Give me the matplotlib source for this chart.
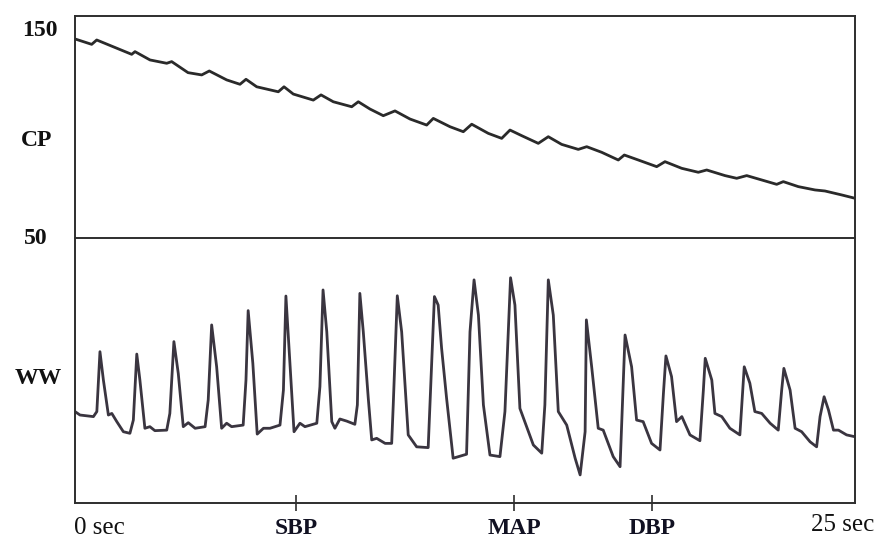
import matplotlib
matplotlib.use('Agg')
import matplotlib.pyplot as plt

# ---------------- data ----------------
# Cuff pressure (CP), time in seconds, pressure in mmHg
cp_time = [0.00, 0.535, 0.696, 1.817, 1.923, 2.404, 2.939, 3.099, 3.622, 4.061,
           4.304, 4.862, 5.288, 5.481, 5.824, 6.516, 6.699, 6.997, 7.638, 7.885,
           8.279, 8.869, 9.080, 9.455, 9.881, 10.256, 10.737, 11.272, 11.484, 12.019,
           12.446, 12.715, 13.247, 13.676, 13.942, 14.317, 14.849, 15.170, 15.599, 16.131,
           16.401, 16.881, 17.413, 17.606, 18.054, 18.644, 18.910, 19.446, 19.978, 20.247,
           20.833, 21.208, 21.529, 22.010, 22.490, 22.702, 23.183, 23.718, 24.038, 24.574,
           25.000]
cp_value = [145.7, 143.1, 145.2, 138.3, 139.6, 135.6, 134.0, 134.8, 129.5, 128.4,
            130.3, 126.0, 123.9, 126.3, 122.7, 120.3, 122.7, 119.2, 116.3, 118.8,
            115.5, 113.1, 115.5, 112.0, 108.8, 111.1, 107.2, 104.3, 107.5, 103.5,
            101.1, 104.7, 100.3, 97.9, 101.9, 99.2, 95.5, 98.7, 95.0, 92.6,
            93.9, 91.2, 87.5, 89.9, 87.5, 84.3, 86.7, 83.5, 81.6, 82.7,
            80.0, 78.7, 80.0, 77.9, 75.8, 77.1, 74.7, 73.1, 72.6, 70.7,
            69.1]

# Oscillometric waveform (WW), time in seconds, arbitrary units
ww_time = [0.00, 0.16, 0.59, 0.70, 0.80, 0.91, 1.07, 1.18, 1.34, 1.55,
           1.76, 1.87, 1.98, 2.08, 2.24, 2.40, 2.56, 2.94, 3.04, 3.17,
           3.31, 3.47, 3.63, 3.85, 4.17, 4.27, 4.38, 4.54, 4.70, 4.86,
           5.02, 5.39, 5.48, 5.55, 5.70, 5.84, 6.04, 6.25, 6.57, 6.68,
           6.76, 6.89, 7.02, 7.21, 7.37, 7.75, 7.85, 7.95, 8.07, 8.23,
           8.33, 8.49, 8.71, 8.97, 9.05, 9.13, 9.24, 9.40, 9.51, 9.67,
           9.94, 10.15, 10.20, 10.33, 10.47, 10.68, 10.95, 11.32, 11.43, 11.52,
           11.64, 11.75, 11.91, 12.12, 12.29, 12.55, 12.66, 12.79, 12.93, 13.09,
           13.30, 13.62, 13.78, 13.96, 14.10, 14.26, 14.69, 14.96, 15.06, 15.17,
           15.33, 15.49, 15.76, 16.03, 16.19, 16.35, 16.39, 16.56, 16.77, 16.93,
           17.25, 17.47, 17.55, 17.63, 17.84, 18.00, 18.21, 18.48, 18.75, 18.86,
           18.94, 19.12, 19.28, 19.45, 19.71, 20.03, 20.14, 20.20, 20.41, 20.51,
           20.73, 20.99, 21.31, 21.40, 21.45, 21.63, 21.79, 22.01, 22.28, 22.54,
           22.65, 22.72, 22.92, 23.08, 23.29, 23.56, 23.77, 23.88, 24.01, 24.15,
           24.31, 24.47, 24.73, 25.00]
ww_value = [34.5, 33.2, 32.6, 34.5, 57.1, 46.4, 33.2, 33.8, 30.7, 26.9,
            26.3, 31.3, 56.2, 46.4, 28.2, 28.8, 27.3, 27.5, 33.8, 60.9,
            48.9, 28.8, 30.3, 28.2, 28.8, 38.9, 67.2, 51.4, 28.2, 30.1,
            28.8, 29.4, 46.4, 72.6, 52.7, 26.0, 28.2, 28.2, 29.4, 42.6,
            78.1, 52.7, 26.9, 30.1, 28.8, 30.1, 43.9, 80.4, 64.6, 30.7,
            28.2, 31.7, 30.9, 29.7, 37.0, 79.1, 64.6, 39.5, 23.8, 24.4,
            22.5, 22.5, 37.0, 78.2, 64.6, 25.7, 21.2, 20.9, 52.1, 77.9,
            74.7, 58.4, 39.5, 16.9, 17.5, 18.4, 64.6, 84.2, 70.9, 37.0,
            18.1, 17.5, 34.5, 85.0, 74.7, 35.7, 21.9, 18.8, 37.0, 84.2,
            70.9, 34.5, 29.4, 16.9, 10.6, 26.9, 69.1, 51.4, 28.2, 27.5,
            17.5, 13.7, 38.9, 63.4, 51.4, 31.3, 30.7, 22.5, 20.0, 41.4,
            55.5, 47.7, 30.7, 32.6, 25.7, 23.5, 42.6, 54.6, 46.4, 33.8,
            32.6, 28.2, 25.7, 42.6, 51.4, 45.2, 34.5, 33.8, 30.1, 27.5,
            42.6, 50.8, 42.6, 28.2, 26.9, 23.1, 21.2, 32.6, 40.1, 35.1,
            27.5, 27.5, 25.7, 25.0]

marker_times = [7.08, 14.07, 18.5]
marker_labels = ['SBP', 'MAP', 'DBP']
cp_tick_values = [150, 50]
cp_tick_labels = ['150', '50']
t_start_label, t_end_label = '0 sec', '25 sec'

# ---------------- layout ----------------
W, H = 878, 540
plt.rcParams['font.family'] = ['Liberation Serif', 'DejaVu Serif']
fig = plt.figure(figsize=(W / 100, H / 100), dpi=100)
fig.patch.set_facecolor('white')

def fx(px):
    return px / W

def fy(py):
    return 1 - py / H

L, R, TOP, MID, BOT = 75, 855, 16, 238, 503
ax_cp = fig.add_axes([fx(L), fy(MID), fx(R) - fx(L), fy(TOP) - fy(MID)])
ax_ww = fig.add_axes([fx(L), fy(BOT), fx(R) - fx(L), fy(MID) - fy(BOT)])

frame_col = '#2e2e2e'
for ax in (ax_cp, ax_ww):
    ax.set_xlim(0, 25)
    for s in ax.spines.values():
        s.set_color(frame_col)
        s.set_linewidth(1.4)
    ax.set_yticks([])
ax_cp.spines['bottom'].set_visible(False)
ax_cp.set_xticks([])

# CP panel
ax_cp.plot(cp_time, cp_value, color='#2a2a2a', lw=2.0,
           solid_joinstyle='round', solid_capstyle='round')
ax_cp.set_ylim(50, 50 + (MID - TOP) / 2.08)

# WW panel
ax_ww.plot(ww_time, ww_value, color='#3a3540', lw=2.0,
           solid_joinstyle='round', solid_capstyle='round')
ax_ww.set_ylim(0, 100)
ax_ww.set_xticks(marker_times)
ax_ww.set_xticklabels(marker_labels, fontweight='bold', fontsize=17, color='#111122')
ax_ww.tick_params(axis='x', direction='inout', length=11, width=1.2,
                  color=frame_col, pad=5)

# left-side labels
lab_kw = dict(fontsize=17, fontweight='bold', color='#111111', ha='center', va='center')
fig.text(fx(40), fy(30), cp_tick_labels[0], **lab_kw)
fig.text(fx(37), fy(141), 'CP', **lab_kw)
fig.text(fx(36), fy(238), cp_tick_labels[1], **lab_kw)
fig.text(fx(38), fy(379), 'WW', **lab_kw)

# time labels
fig.text(fx(74), fy(528), t_start_label, fontsize=18, color='#111111', ha='left', va='center')
fig.text(fx(874), fy(525), t_end_label, fontsize=18, color='#111111', ha='right', va='center')

fig.savefig('out.png', dpi=100, facecolor='white')
